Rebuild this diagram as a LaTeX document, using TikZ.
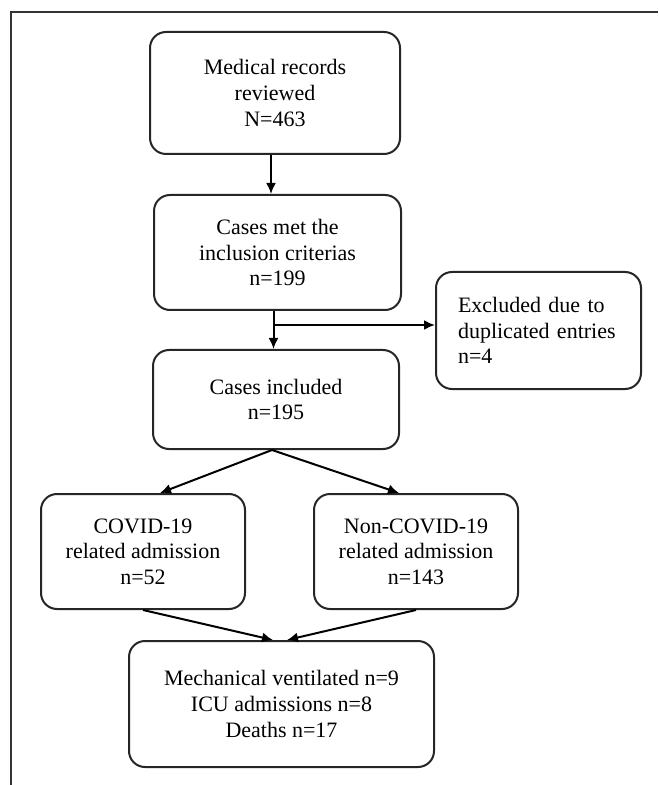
\documentclass[tikz,border=0pt]{standalone}
\usepackage{fontspec}
\setmainfont{Liberation Serif}
\usepackage{tikz}
\usetikzlibrary{arrows.meta,positioning,calc}

\begin{document}
\begin{tikzpicture}[
                x=0.5pt, y=-0.5pt,
                font=\fontsize{11}{12.8}\selectfont,
                box/.style={rectangle, draw=black!85, line width=1pt, rounded corners=8pt, align=center, inner sep=0pt, fill=white},
                arr/.style={-{Latex[length=5.5pt,width=5pt]}, line width=1pt},
            ]
            \useasboundingbox (0,0) rectangle (658,785);
            \draw[black!80, line width=1.4pt] (658,12) -- (11,12) -- (11,785);
            \node[box, minimum width=125pt, minimum height=61pt] (records) at (275,93) {Medical records\\reviewed\\N=463};
            \node[box, minimum width=123.5pt, minimum height=57.5pt] (criteria) at (277.5,252.5) {Cases met the\\inclusion criterias\\n=199};
            \node[box, minimum width=123pt, minimum height=49.5pt] (included) at (276,399.5) {Cases included\\n=195};
            \node[box, align=left, text width=80.5pt, inner xsep=11pt, minimum height=58.5pt] (excluded) at (538.5,330.5) {Excluded due to\\duplicated entries\\n=4};
            \node[box, minimum width=102pt, minimum height=57.5pt] (covid) at (143,551.5) {COVID-19\\related admission\\n=52};
            \node[box, minimum width=102pt, minimum height=57.5pt] (noncovid) at (416,551.5) {Non-COVID-19\\related admission\\n=143};
            \node[box, minimum width=152.5pt, minimum height=63pt] (outcome) at (281.5,704) {Mechanical ventilated n=9\\ICU admissions n=8\\Deaths n=17};
            \coordinate (dup) at (273,325);
            \draw[arr] ([xshift=-2pt]records.south) -- ([xshift=-2pt]records.south |- criteria.north);
            \draw[arr] ([xshift=-2pt]criteria.south) -- ([xshift=-2pt]criteria.south |- included.north);
            \draw[arr] (dup) -- (dup -| excluded.west);
            \draw[arr] ([xshift=-2pt]included.south) -- ([xshift=8.5pt]covid.north);
            \draw[arr] ([xshift=-2pt]included.south) -- ([xshift=-8.5pt]noncovid.north);
            \draw[arr] (covid.south) -- ([xshift=-4.25pt]outcome.north);
            \draw[arr] (noncovid.south) -- ([xshift=2.75pt]outcome.north);
        \end{tikzpicture}
\end{document}
